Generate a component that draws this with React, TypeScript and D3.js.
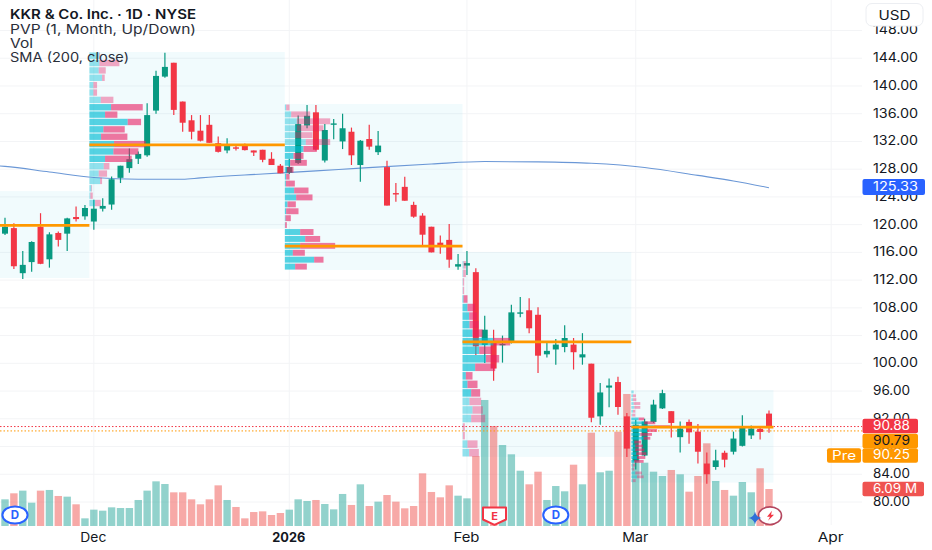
import React from 'react';
import * as d3 from 'd3';

const title = 'KKR & Co. Inc. · 1D · NYSE';
const legendLines = ['PVP (1, Month, Up/Down)', 'Vol', 'SMA (200, close)'];
const priceTicks = [80, 84, 88, 92, 96, 100, 104, 108, 112, 116, 120, 124, 128, 132, 136, 140, 144, 148];
const timeTicks: [string, number, boolean][] = [['Dec', 10, false], ['2026', 32, true], ['Feb', 52, false], ['Mar', 71, false], ['Apr', 93, false]];

const opens = [118.7,119.5,113.0,114.6,119.7,115.0,118.8,118.7,121.1,121.2,120.45,122.3,122.9,126.75,128.15,129.5,130.0,136.45,141.35,143.35,137.75,135.05,133.55,134.4,131.75,130.7,131.15,131.35,130.7,130.8,129.5,128.5,127.5,128.9,134.3,136.2,129.25,134.4,132.0,133.4,128.6,132.35,130.45,128.3,124.55,125.45,122.85,121.3,119.7,117.4,117.8,113.95,114.1,113.15,102.65,102.95,102.6,102.95,107.15,107.65,107.0,101.3,102.0,102.35,102.7,100.85,99.95,92.35,96.5,97.3,92.35,85.85,86.7,91.55,93.5,93.1,89.35,91.55,90.15,85.55,85.05,87.1,87.25,88.1,89.6,90.55,92.75];
const highs = [121.0,120.2,116.2,117.6,121.65,118.9,119.0,121.0,122.6,122.85,123.6,123.8,126.95,128.5,131.0,130.55,137.5,142.2,144.8,143.35,137.75,135.8,135.8,135.8,132.7,132.45,131.5,131.7,130.7,130.8,130.45,128.75,129.5,135.75,137.25,137.25,134.5,135.25,136.0,134.0,132.2,134.4,133.5,129.2,126.0,126.9,123.3,121.65,119.7,118.45,120.1,115.75,116.2,113.7,106.85,104.85,104,108.45,109.55,109.4,108.1,102.95,103.5,105.5,103.65,104.35,99.95,97.15,97.8,98.05,92.85,91.85,92.0,94.75,96.2,93.1,91.6,91.9,91.25,87.15,87.55,87.4,90.15,92.5,91.05,90.85,93.2];
const lows = [118.5,113.6,112.15,113.2,114.3,113.8,116.85,116.2,120.45,120.7,119.25,121.9,122.15,126.0,127.5,128.75,129.8,136.0,141.2,135.8,133.4,132.3,132.0,131.8,130.4,130.3,130.7,130.7,129.9,129.0,128.6,127.4,127.3,128.75,133.9,130.7,128.95,132.3,130.9,128.6,126.2,130.8,130.05,122.75,123.3,123.45,121.0,116.85,116.0,115.8,113.8,113.5,112.75,101.2,100.05,97.5,100.1,102.85,106.65,104.35,98.6,100.85,99.8,101.6,99.1,99.8,91.5,91.15,93.65,92.6,86.5,84.7,86.6,91.4,93.4,89.3,87.15,88.4,85.55,82.65,84.65,85.0,86.85,88.0,89.1,89.0,90.0];
const closes = [119.7,114.0,114.2,117.5,114.35,118.6,117.8,120.9,120.8,122.4,122.3,122.7,126.55,128.5,129.45,130.2,135.8,141.45,142.75,136.55,134.7,133.4,132.1,131.8,130.5,131.35,130.95,130.75,130.4,129.35,128.6,127.4,128.3,134.5,135.7,130.8,133.65,134.6,133.9,130.0,132.1,131.25,131.4,122.75,124.35,123.45,121.15,118.55,116.0,117.05,114.95,114.3,114.45,102.45,104.85,99.25,102.8,107.35,107.35,105.05,101.1,101.8,102.7,103.65,101.6,101.3,92.15,95.8,96.8,93.7,87.7,91.15,91.6,94.05,95.7,91.4,90.6,90.05,87.25,84.0,86.0,86.1,89.15,90.7,90.6,90.1,90.88];
const volumes = [4.39,5.38,5.82,3.84,5.82,5.93,4.94,4.83,3.57,1.26,2.69,2.52,3.07,2.96,2.96,4.28,5.82,7.35,6.91,5.54,5.54,4.39,3.57,4.39,6.69,4.28,3.13,1.26,2.3,2.41,1.81,2.14,2.69,4.39,4.12,4.28,3.62,2.74,5.27,3.46,6.86,3.29,4.01,5.1,4.01,2.91,3.29,8.67,5.6,4.72,6.69,4.99,4.55,11.52,20.74,16.46,13.33,11.8,9.1,6.86,8.94,4.28,6.58,5.71,10.09,6.86,15.36,8.84,9.1,15.52,21.73,11.19,10.42,8.94,8.23,9.22,8.51,5.65,8.23,13.61,7.41,5.93,4.99,7.24,5.55,9.5,6.09];

const smaBars = [-1,0,5,10,15,20,22,29,35,40,48,54,60,66,72,78,82,86];
const smaValues = [128.5,128.4,127.6,126.8,126.55,126.55,126.75,127.3,127.75,128.15,128.75,129.1,129.05,128.85,128.25,127.1,126.3,125.33];

const periodStart = [-1, 9.5, 31.5, 51.5, 70.5];
const periodEnd = [9.5, 31.5, 51.5, 70.5, 86.5];
const periodHigh = [124.85, 144.9, 137.4, 116.05, 96.15];
const periodLow = [112.3, 119.4, 113.45, 86.5, 82.8];
const pocPrice = [119.9, 131.5, 116.9, 103.1, 90.8];
const vaFirst = [0, 7, 6, 5, 7];
const vaLast = [0, 14, 23, 16, 18];
const upVol2 = [30,30,28,38,12,12,34,65,47,115,42,35,74,72,47,43,28,32,6,3,17,0,0,0];
const dnVol2 = [2,60,21,8,11,11,38,95,37,40,64,79,95,75,80,17,25,6,2,7,17,0,0,0];
const upVol3 = [4,19,36,36,31,63,56,26,16,6,4,3,28,34,8,4,2,1,46,61,46,24,88,31];
const dnVol3 = [10,57,100,80,52,73,40,30,50,20,10,27,43,49,25,37,16,5,40,45,105,36,28,35];
const upVol4 = [0,3,2,1,1,3,15,20,21,30,93,50,70,38,10,15,26,21,30,26,1,1,15,20];
const dnVol4 = [0,7,8,4,4,12,23,23,27,30,50,38,40,60,20,30,27,35,31,42,6,6,30,29];
const upVol5 = [7,5,5,7,9,5,3,22,39,67,47,27,37,9,12,12,15,17,9,4,3,12,17,4];
const dnVol5 = [0,9,10,20,18,7,9,17,33,50,30,35,20,20,23,27,30,25,28,8,6,20,20,9];
const profileUp = [[], upVol2, upVol3, upVol4, upVol5];
const profileDn = [[], dnVol2, dnVol3, dnVol4, dnVol5];

const lastPrice = 90.88;
const prePrice = 90.25;
const priceLabels = { sma: '125.33', last: '90.88', poc: '90.79', pre: '90.25', vol: '6.09 M' };

const W = 932, H = 550;
const FONT = 'Inter, "Liberation Sans", sans-serif';
const y = d3.scaleLinear([80, 148], [502, 30.5]);
const x = d3.scaleLinear([0, 86], [5, 769]);
const vy = d3.scaleLinear([0, 6.09], [526, 489]);
const pw = d3.scaleLinear([0, 300], [0, 100]);
const GRID = '#f3f4f6', GREEN = '#089981', RED = '#f23645', ORANGE = '#ff9800', INK = '#131722';
const smaPath = d3.line<number>().x(i => x(smaBars[i])).y(i => y(smaValues[i])).curve(d3.curveMonotoneX)(d3.range(smaBars.length)) as string;
const legendWidths = [186, 23, 119];
const priceTextWidth = (s: string) => (s.length >= 6 ? 45 : 37);

function AxisLabel({ yy, bg, x0 = 862.5, x1 = 918, text, color, tl }: { yy: number; bg: string; x0?: number; x1?: number; text: string; color: string; tl?: number }) {
  return (
    <g>
      <rect x={x0} y={yy - 7.3} width={x1 - x0} height={14.6} rx={2} fill={bg} />
      <text x={873} y={yy + 0.5} dominantBaseline="middle" fontSize={12.6} fill={color} textLength={tl ?? priceTextWidth(text)} lengthAdjust="spacingAndGlyphs">{text}</text>
    </g>
  );
}

export default function App() {
  return (
    <svg width={W} height={H} style={{ position: 'absolute', left: 0, top: 0, background: '#fff' }} fontFamily={FONT}>
      {/* grid */}
      {priceTicks.map(t => <line key={t} x1={0} x2={862} y1={y(t)} y2={y(t)} stroke={GRID} />)}
      {timeTicks.map(([l, b]) => <line key={l} x1={x(b)} x2={x(b)} y1={0} y2={525} stroke={GRID} />)}

      {/* period backgrounds */}
      {periodStart.map((s, k) => (
        <rect key={k} x={x(s)} width={x(periodEnd[k]) - x(s)} y={y(periodHigh[k])} height={y(periodLow[k]) - y(periodHigh[k])} fill="rgba(0,188,212,0.055)" />
      ))}

      {/* volume */}
      {volumes.map((v, i) => (
        <rect key={i} x={x(i) - 3.7} width={7.4} y={vy(v)} height={vy(0) - vy(v)} fill={closes[i] >= opens[i] ? 'rgba(38,166,154,0.5)' : 'rgba(239,83,80,0.5)'} />
      ))}

      {/* price lines */}
      <line x1={0} x2={862} y1={y(lastPrice)} y2={y(lastPrice)} stroke={RED} strokeWidth={1} strokeDasharray="1.5 2" />
      <line x1={0} x2={862} y1={y(prePrice)} y2={y(prePrice)} stroke={ORANGE} strokeWidth={1} strokeDasharray="1.5 2" />

      {/* SMA */}
      <path d={smaPath} fill="none" stroke="#6a97d6" strokeWidth={1.1} />

      {/* candles */}
      {closes.map((c, i) => {
        const col = c >= opens[i] ? GREEN : RED;
        const top = y(Math.max(c, opens[i]));
        const bot = y(Math.min(c, opens[i]));
        return (
          <g key={i}>
            <line x1={x(i)} x2={x(i)} y1={y(highs[i])} y2={y(lows[i])} stroke={col} strokeWidth={1.2} />
            <rect x={x(i) - 3} width={6} y={top} height={Math.max(bot - top, 1)} fill={col} />
          </g>
        );
      })}

      {/* profile rows */}
      {profileUp.map((ups, k) => {
        const n = ups.length;
        if (!n) return null;
        const rowH = (y(periodLow[k]) - y(periodHigh[k])) / n;
        const x0 = x(periodStart[k]);
        return ups.map((u, r) => {
          const d = profileDn[k][r];
          const inVA = r >= vaFirst[k] && r <= vaLast[k];
          const ry = y(periodHigh[k]) + r * rowH + 0.5;
          const h = Math.max(rowH - 1, 1);
          return (
            <g key={`${k}-${r}`}>
              <rect x={x0} y={ry} width={pw(u)} height={h} fill={inVA ? 'rgba(0,188,212,0.65)' : 'rgba(0,188,212,0.4)'} />
              <rect x={x0 + pw(u)} y={ry} width={pw(d)} height={h} fill={inVA ? 'rgba(233,30,99,0.6)' : 'rgba(233,30,99,0.38)'} />
            </g>
          );
        });
      })}

      {/* POC lines */}
      {pocPrice.map((p, k) => (
        <line key={k} x1={x(periodStart[k])} x2={x(periodEnd[k])} y1={y(p)} y2={y(p)} stroke={ORANGE} strokeWidth={2.6} />
      ))}

      {/* event markers */}
      <g fontWeight={700} textAnchor="middle">
        {[0, 62].map((b, k) => (
          <g key={k} transform={`translate(${x(b) + (k === 0 ? 10 : 0)},515)`}>
            <ellipse rx={12.6} ry={8.6} fill="#fff" stroke="#2962ff" strokeWidth={2} />
            <text y={4} fontSize={11.5} fill="#2962ff">D</text>
          </g>
        ))}
        <g transform="translate(494.5,0)">
          <path d="M-11.5,507.5 H11.5 V519.5 L0,524.8 L-11.5,519.5 Z" fill="#fff" stroke={RED} strokeWidth={2} strokeLinejoin="round" />
          <text y={519.5} fontSize={11} fill={RED}>E</text>
        </g>
        <g transform="translate(770,515.7)">
          <ellipse rx={11.5} ry={8.8} fill="#fff" stroke="#b4475f" strokeWidth={1.6} />
          <path d="M2,-5 L-3,1 L0,1 L-2,5 L4,-1 L1,-1 Z" fill={RED} />
        </g>
        <path d="M755,511.5 Q756,517 761.5,518 Q756,519 755,524.5 Q754,519 748.5,518 Q754,517 755,511.5 Z" fill="#2f6fd8" />
      </g>

      {/* legend */}
      <text x={10} y={18.5} fontSize={13} fontWeight={600} fill={INK} textLength={186} lengthAdjust="spacingAndGlyphs">{title}</text>
      {legendLines.map((l, k) => <text key={l} x={10} y={33.5 + k * 14.4} fontSize={13} fill="#2a2e39" textLength={legendWidths[k]} lengthAdjust="spacingAndGlyphs">{l}</text>)}

      {/* axes */}
      <g fontSize={13} fill={INK} textAnchor="middle">
        {timeTicks.map(([l, b, bold]) => <text key={l} x={x(b) - 0.5} y={542} fontWeight={bold ? 700 : 400} textLength={bold ? 33 : 26} lengthAdjust="spacingAndGlyphs">{l}</text>)}
      </g>
      <g fontSize={12.6} fill={INK}>
        {priceTicks.map(t => <text key={t} x={873} y={y(t) + 0.5} dominantBaseline="middle" textLength={priceTextWidth(t.toFixed(2))} lengthAdjust="spacingAndGlyphs">{t.toFixed(2)}</text>)}
      </g>
      <rect x={866} y={3.5} width={57} height={22.5} rx={6} fill="#fff" stroke="#eceef2" />
      <text x={894.5} y={19.5} fontSize={13} textAnchor="middle" fill={INK} textLength={32} lengthAdjust="spacingAndGlyphs">USD</text>

      <rect x={862.5} y={179} width={62.5} height={16} rx={2} fill="#2962ff" />
      <text x={873} y={187.5} dominantBaseline="middle" fontSize={12.6} fill="#fff" textLength={45} lengthAdjust="spacingAndGlyphs">{priceLabels.sma}</text>
      <AxisLabel yy={426} bg={RED} text={priceLabels.last} color="#fff" />
      <AxisLabel yy={441} bg={ORANGE} text={priceLabels.poc} color={INK} />
      <AxisLabel yy={455.5} bg={ORANGE} text={priceLabels.pre} color="#fff" />
      <rect x={827} y={448.2} width={34} height={14.6} rx={2} fill={ORANGE} />
      <text x={844} y={456} dominantBaseline="middle" textAnchor="middle" fontSize={12.8} fill="#fff" textLength={24} lengthAdjust="spacingAndGlyphs">Pre</text>
      <AxisLabel yy={489} bg="#ef5350" x1={924} text={priceLabels.vol} color="#fff" tl={44} />
    </svg>
  );
}
